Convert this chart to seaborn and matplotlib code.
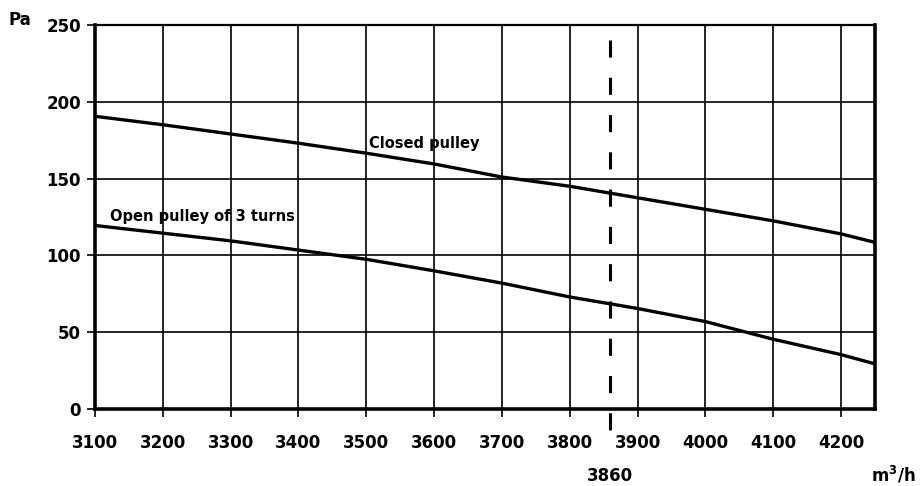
import matplotlib
matplotlib.use("Agg")
import matplotlib.pyplot as plt
import seaborn as sns
import pandas as pd

flow = [3100, 3200, 3300, 3400, 3500, 3600, 3700, 3800, 3900, 4000, 4100, 4200, 4250]
closed_pulley = [190.5, 185, 179, 173, 166.5, 159.5, 151, 145, 137.5, 130, 122.5, 114, 108.5]
open_pulley = [119.5, 114.5, 109.5, 103.5, 97.5, 90, 82, 73, 65.5, 57, 45.5, 35.5, 29.5]
x_ticks = [3100, 3200, 3300, 3400, 3500, 3600, 3700, 3800, 3900, 4000, 4100, 4200]
y_ticks = [0, 50, 100, 150, 200, 250]
marker_flow = 3860

sns.set_theme(style="white")
plt.rcParams['font.family'] = ['DejaVu Sans']
plt.rcParams['font.weight'] = 'bold'
plt.rcParams['text.color'] = 'black'
plt.rcParams['xtick.color'] = 'black'
plt.rcParams['ytick.color'] = 'black'

df = pd.DataFrame({
    "flow": flow * 2,
    "pressure": closed_pulley + open_pulley,
    "series": ["Closed pulley"] * len(flow) + ["Open pulley of 3 turns"] * len(flow),
})

fig = plt.figure(figsize=(9.21, 4.86), dpi=100)
ax = fig.add_axes([0.103, 0.158, 0.847, 0.791])

sns.lineplot(data=df, x="flow", y="pressure", units="series", estimator=None,
             color="black", linewidth=2.4, ax=ax, legend=False)

ax.set_xlim(3100, 4250)
ax.set_ylim(0, 250)
ax.set_xticks(x_ticks)
ax.set_yticks(y_ticks)
ax.set_xticklabels([str(t) for t in x_ticks], fontsize=12, fontweight="bold", color="black")
ax.set_yticklabels([str(t) for t in y_ticks], fontsize=12, fontweight="bold", color="black")
ax.grid(True, color="black", linewidth=1.2)
ax.set_axisbelow(True)
ax.tick_params(axis="both", direction="out", length=6, width=1.2, color="black",
               bottom=True, left=True, pad=12)
ax.tick_params(axis="y", pad=4)
ax.set_xlabel("")
ax.set_ylabel("")

for side in ["left", "bottom", "right"]:
    ax.spines[side].set_linewidth(2.6)
    ax.spines[side].set_color("black")
ax.spines["top"].set_linewidth(1.6)
ax.spines["top"].set_color("black")

# dashed marker line at 3860, drawn top-down, extending slightly below the axis
ax.plot([marker_flow, marker_flow], [240.2, -13.7], color="black", linewidth=2.2,
        linestyle=(0, (5.6, 6.6)), clip_on=False)

ax.text(3504, 173, "Closed pulley", fontsize=10.5, fontweight="bold", va="center", ha="left", color="black")
ax.text(3122, 125.5, "Open pulley of 3 turns", fontsize=10.5, fontweight="bold", va="center", ha="left", color="black")

fig.text(8 / 921, 1 - 20 / 486, "Pa", fontsize=12, fontweight="bold", va="center", ha="left", color="black")
ax.annotate(str(marker_flow), xy=(marker_flow, 0), xycoords="data",
            xytext=(0, -48), textcoords="offset points", ha="center", va="center",
            fontsize=12, fontweight="bold", color="black")
fig.text(916 / 921, 1 - 475 / 486, "m$^3$/h", fontsize=12, fontweight="bold", va="center", ha="right", color="black")

fig.savefig("out.png", dpi=100)
